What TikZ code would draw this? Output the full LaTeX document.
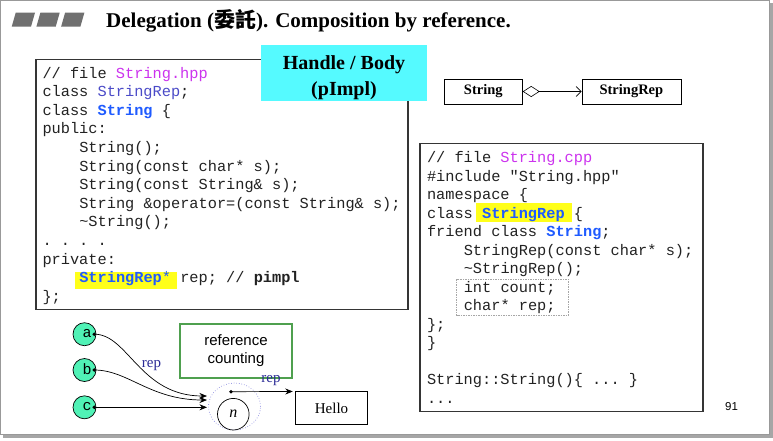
\documentclass[tikz,border=0pt]{standalone}
\usepackage{fontspec}
\setmainfont{Liberation Serif}
\setsansfont{Liberation Sans}
\setmonofont{Liberation Mono}
\newfontfamily\cjk{Noto Sans CJK TC}
\usetikzlibrary{arrows.meta,shapes.geometric}

\definecolor{codeink}{HTML}{222222}
\definecolor{kwblue}{HTML}{1F5BFF}
\definecolor{fileviolet}{HTML}{CC33EE}
\definecolor{repslate}{HTML}{4B4BC8}
\definecolor{hlyellow}{HTML}{FFFF1A}
\definecolor{notecyan}{HTML}{55FAFF}
\definecolor{objteal}{HTML}{50F2B6}
\definecolor{refgreen}{HTML}{4FA04F}
\definecolor{labelnavy}{HTML}{2A2A96}
\definecolor{ringblue}{HTML}{6A6AD8}
\definecolor{barsgray}{HTML}{707070}
\definecolor{framegray}{HTML}{353535}

\newcommand\codefont{\fontsize{15.3}{18.6}\selectfont\ttfamily}

\tikzset{
  codeline/.style={anchor=base west, inner sep=0pt, outer sep=0pt, font=\codefont, text=codeink},
  codeframe/.style={draw=framegray, line width=1.2pt},
  umlbox/.style={draw=black, line width=0.8pt, minimum height=25pt, inner sep=0pt,
                 font=\fontsize{14.5}{16}\selectfont\bfseries},
  obj/.style={circle, draw=black, line width=0.7pt, fill=objteal, minimum size=23pt, inner sep=0pt},
  objletter/.style={inner sep=0pt, font=\fontsize{15}{16}\selectfont\ttfamily},
  replabel/.style={inner sep=0pt, text=labelnavy, font=\fontsize{15}{16}\selectfont},
  refarrow/.style={line width=0.7pt, -{Stealth[length=7.5pt,width=6pt]}},
  bar/.style={fill=barsgray},
}

\begin{document}
\begin{tikzpicture}[x=1pt,y=-1pt]
\useasboundingbox (0,0) rectangle (773,440);

% slide with drop shadow
\fill[black!35] (3,3) rectangle (773,438);
\filldraw[fill=white, draw=black!40, line width=0.8pt] (0.5,0.5) rectangle (769,434);

% title bar
\fill[bar] (15.7,12.7) -- (35,12.7) -- (31,26.7) -- (11.7,26.7) -- cycle;
\fill[bar] (40.4,12.7) -- (59.7,12.7) -- (55.7,26.7) -- (36.4,26.7) -- cycle;
\fill[bar] (65.1,12.7) -- (84.4,12.7) -- (80.4,26.7) -- (61.1,26.7) -- cycle;
\node[anchor=base west, inner sep=0pt, font=\fontsize{21}{23}\selectfont\bfseries] (title)
  at (106,27.3) {Delegation ({\cjk 委託}). Composition by reference.};

% ---------- String.hpp ----------
\draw[codeframe] (36,59.5) rectangle (408,309.5);
\fill[hlyellow] (75,271.7) rectangle (176.7,289.3);
\node[codeline] (L0)  at (42.5,78)    {// file \textcolor{fileviolet}{String.hpp}};
\node[codeline] (L1)  at (42.5,96.6)  {class \textcolor{repslate}{StringRep};};
\node[codeline] (L2)  at (42.5,115.2) {class \textcolor{kwblue}{\bfseries String} \{};
\node[codeline] (L3)  at (42.5,133.8) {public:};
\node[codeline] (L4)  at (79.3,152.4) {String();};
\node[codeline] (L5)  at (79.3,171.0) {String(const char* s);};
\node[codeline] (L6)  at (79.3,189.6) {String(const String\& s);};
\node[codeline] (L7)  at (79.3,208.2) {String \&operator=(const String\& s);};
\node[codeline] (L8)  at (79.3,226.8) {\textasciitilde String();};
\node[codeline] (L9)  at (42.5,245.4) {. . . .};
\node[codeline] (L10) at (42.5,264.0) {private:};
\node[codeline] (L11) at (79.3,282.6) {\textcolor{kwblue}{\bfseries StringRep}\textcolor{kwblue}{*} rep; // \textbf{pimpl}};
\node[codeline] (L12) at (42.5,301.2) {\};};

% note
\node[fill=notecyan, minimum width=166pt, minimum height=56pt, inner sep=0pt] (handle) at (344,73) {};
\node[align=center, inner sep=0pt, font=\fontsize{20}{26}\selectfont\bfseries] (handletext)
  at (344,78) {Handle / Body\\(pImpl)};

% ---------- class relation ----------
\node[umlbox, minimum width=78pt] (string) at (483.3,91.5) {String};
\node[umlbox, minimum width=99pt] (stringrep) at (631.4,91.5) {StringRep};
\draw[line width=0.6pt, {Diamond[open,length=17pt,width=11pt]}-{Straight Barb[length=5pt,width=10pt]}]
  (string.east) -- (stringrep.west);

% ---------- String.cpp ----------
\draw[codeframe] (420,143.3) rectangle (703,411.7);
\fill[hlyellow] (475.7,202.5) rectangle (572,222);
\draw[black!35, line width=0.6pt, dash pattern=on 1.5pt off 1pt] (456.7,279) rectangle (568.3,315);
\node[codeline] (R0)  at (427,162.5) {// file \textcolor{fileviolet}{String.cpp}};
\node[codeline] (R1)  at (427,181.0) {\#include "String.hpp"};
\node[codeline] (R2)  at (427,199.5) {namespace \{};
\node[codeline] (R3)  at (427,218.0) {class \textcolor{kwblue}{\bfseries StringRep} \{};
\node[codeline] (R4)  at (427,236.5) {friend class \textcolor{kwblue}{\bfseries String};};
\node[codeline] (R5)  at (463.8,255.0) {StringRep(const char* s);};
\node[codeline] (R6)  at (463.8,273.5) {\textasciitilde StringRep();};
\node[codeline] (R7)  at (463.8,292.0) {int count;};
\node[codeline] (R8)  at (463.8,310.5) {char* rep;};
\node[codeline] (R9)  at (427,329.0) {\};};
\node[codeline] (R10) at (427,347.5) {\}};
\node[codeline] (R12) at (427,384.5) {String::String()\{ ... \}};
\node[codeline] (R13) at (427,403.0) {...};

% ---------- reference counting ----------
\node[draw=refgreen, line width=2pt, minimum width=112pt, minimum height=54pt, inner sep=0pt,
      align=center, font=\fontsize{15}{18.7}\selectfont\sffamily] (refcount) at (236,350.5)
  {reference\\counting};

\node[ellipse, draw=ringblue, dotted, line width=0.6pt, minimum width=52pt, minimum height=47pt,
      inner sep=0pt] (ring) at (234.5,406.5) {};
\node[circle, draw=black, line width=0.7pt, minimum size=31.6pt, inner sep=0pt,
      font=\fontsize{16}{16}\selectfont\itshape] (count) at (233.3,414.2) {n};
\node[draw=black, line width=0.8pt, minimum width=71.6pt, minimum height=32.3pt, inner sep=0pt,
      font=\fontsize{15}{16}\selectfont] (hello) at (331.5,408) {Hello};

\node[obj] (a) at (84.5,334.2) {};
\node[obj] (b) at (84.5,370) {};
\node[obj] (c) at (84.5,407.3) {};
\node[objletter] (alabel) at (87,333.5) {a};
\node[objletter] (blabel) at (87,369.3) {b};
\node[objletter] (clabel) at (87,406.6) {c};

\coordinate (adot) at (94.3,334.2);
\coordinate (bdot) at (94.3,370);
\coordinate (cdot) at (94.3,407.3);
\coordinate (repdot) at (231,391.7);
\coordinate (tipa) at (207,396);
\coordinate (tipb) at (207,400);
\coordinate (tipc) at (207,407.3);

\draw[refarrow] (adot) .. controls (128,334) and (140,396) .. (tipa);
\draw[refarrow] (bdot) .. controls (128,370) and (150,400) .. (tipb);
\draw[refarrow] (cdot) -- (tipc);
\draw[refarrow, shorten >=2.5pt] (repdot) -- (hello.north west);

\foreach \d in {adot,bdot,cdot,repdot} \fill (\d) circle (1.9pt);

\node[replabel] (rep1) at (151.5,366) {rep};
\node[replabel] (rep2) at (271,381) {rep};

% page number
\node[inner sep=0pt, font=\fontsize{11.5}{12}\selectfont\sffamily] (pagenum) at (731.5,406.7) {91};
\end{tikzpicture}
\end{document}
